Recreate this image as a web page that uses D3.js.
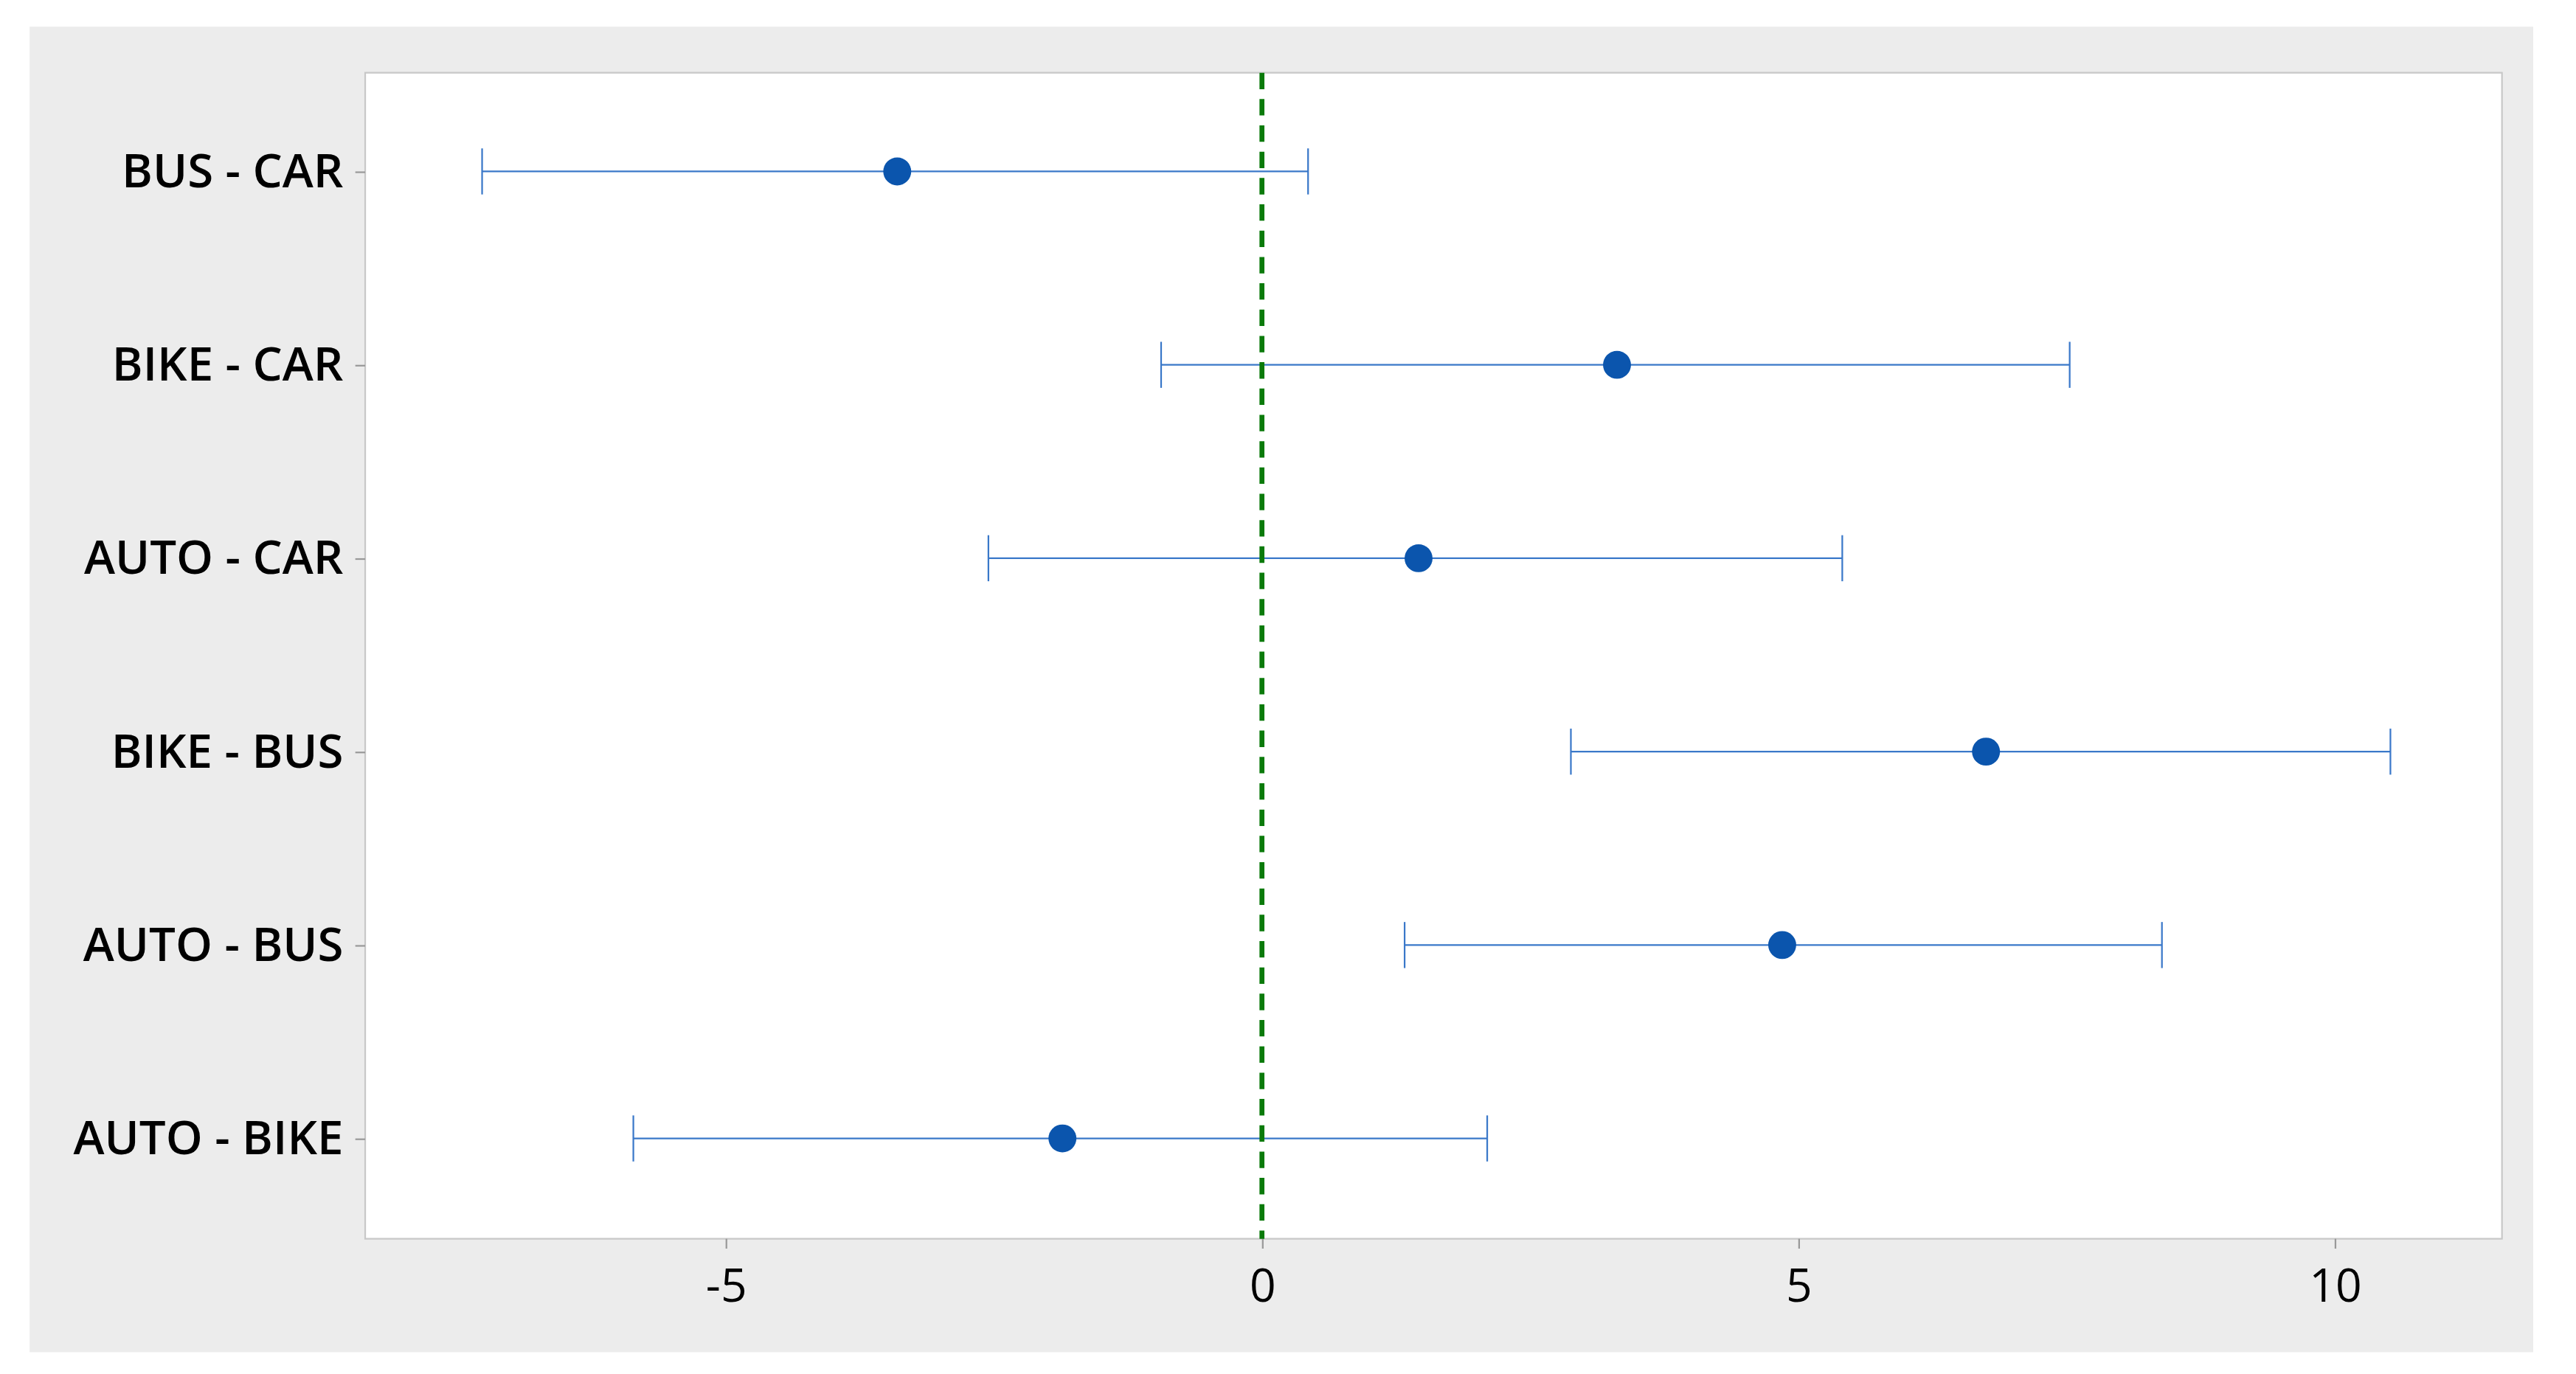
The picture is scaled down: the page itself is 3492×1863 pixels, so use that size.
<!DOCTYPE html>
<html><head><meta charset="utf-8">
<script src="https://cdn.jsdelivr.net/npm/d3@7"></script>
<style>body{margin:0;background:#fff}</style>
</head><body>
<svg id="c" width="3492" height="1863" viewBox="0 0 1566 835"></svg>
<script>
const categories = ["BUS - CAR", "BIKE - CAR", "AUTO - CAR", "BIKE - BUS", "AUTO - BUS", "AUTO - BIKE"];
const centers = [-3.40, 3.31, 1.46, 6.75, 4.85, -1.86];
const lowers = [-7.27, -0.94, -2.55, 2.88, 1.33, -5.86];
const uppers = [0.43, 7.53, 5.41, 10.52, 8.39, 2.10];
const xTicks = [-5, 0, 5, 10];

const svg = d3.select("#c");
svg.append("rect").attr("x", 18).attr("y", 16).attr("width", 1522).attr("height", 806).attr("fill", "#ececec");
svg.append("rect").attr("x", 222).attr("y", 44).attr("width", 1299).attr("height", 709)
    .attr("fill", "#fff").attr("stroke", "#c8c8c8");

const x = d3.scaleLinear().domain([-8.36, 11.56]).range([222, 1521]);
const y = d3.scalePoint().domain(categories).range([104, 692]);

const bottomAxis = d3.axisBottom(x).tickValues(xTicks).tickFormat(d => String(d)).tickSize(6).tickSizeOuter(0);
const gx = svg.append("g").attr("transform", "translate(0,753)").call(bottomAxis);
gx.select(".domain").remove();
gx.selectAll("line").attr("stroke", "#999");
gx.selectAll("text").attr("font-family", "Open Sans").attr("font-size", 28).attr("fill", "#000").attr("dy", "1.05em");

const leftAxis = d3.axisLeft(y).tickSize(6);
const gy = svg.append("g").attr("transform", "translate(222,0)").call(leftAxis);
gy.select(".domain").remove();
gy.selectAll("line").attr("stroke", "#999");
gy.selectAll("text").attr("font-family", "Open Sans").attr("font-weight", 600).attr("font-size", 28.5)
    .attr("fill", "#000").attr("dx", "-0.15em");

const rows = categories.map((c, i) => ({c, m: centers[i], lo: lowers[i], hi: uppers[i]}));
const g = svg.append("g");
g.selectAll(".bar").data(rows).enter().append("line")
    .attr("x1", d => x(d.lo)).attr("x2", d => x(d.hi))
    .attr("y1", d => y(d.c)).attr("y2", d => y(d.c))
    .attr("stroke", "#3a78c9").attr("stroke-width", 1);
g.selectAll(".capl").data(rows).enter().append("line")
    .attr("x1", d => x(d.lo)).attr("x2", d => x(d.lo))
    .attr("y1", d => y(d.c) - 14).attr("y2", d => y(d.c) + 14)
    .attr("stroke", "#3a78c9");
g.selectAll(".capr").data(rows).enter().append("line")
    .attr("x1", d => x(d.hi)).attr("x2", d => x(d.hi))
    .attr("y1", d => y(d.c) - 14).attr("y2", d => y(d.c) + 14)
    .attr("stroke", "#3a78c9");

svg.append("line").attr("x1", x(0)).attr("x2", x(0)).attr("y1", 44).attr("y2", 753)
    .attr("stroke", "#0a7a0a").attr("stroke-width", 3).attr("stroke-dasharray", "10,6");

g.selectAll("circle").data(rows).enter().append("circle")
    .attr("cx", d => x(d.m)).attr("cy", d => y(d.c)).attr("r", 8.5)
    .attr("fill", "#0b55ad");
</script>
</body></html>
